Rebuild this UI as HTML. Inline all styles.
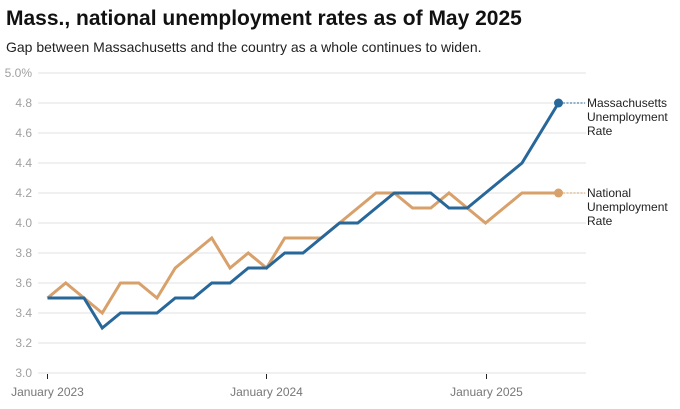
<!DOCTYPE html>
<html><head><meta charset="utf-8"><style>
html,body{margin:0;padding:0;background:#fff;}
body{width:680px;height:409px;overflow:hidden;font-family:"Liberation Sans",Arial,sans-serif;}
svg{display:block;}
</style></head><body>
<svg width="680" height="409" viewBox="0 0 680 409" xmlns="http://www.w3.org/2000/svg" font-family="Liberation Sans, Arial, sans-serif">
<text x="6" y="25" font-size="21" font-weight="bold" fill="#111">Mass., national unemployment rates as of May 2025</text>
<text x="6" y="52" font-size="14" fill="#222">Gap between Massachusetts and the country as a whole continues to widen.</text>
<g stroke="#e2e2e2" stroke-width="1">
<line x1="38" x2="586" y1="73" y2="73"/>
<line x1="38" x2="586" y1="103" y2="103"/>
<line x1="38" x2="586" y1="133" y2="133"/>
<line x1="38" x2="586" y1="163" y2="163"/>
<line x1="38" x2="586" y1="193" y2="193"/>
<line x1="38" x2="586" y1="223" y2="223"/>
<line x1="38" x2="586" y1="253" y2="253"/>
<line x1="38" x2="586" y1="283" y2="283"/>
<line x1="38" x2="586" y1="313" y2="313"/>
<line x1="38" x2="586" y1="343" y2="343"/>
<line x1="38" x2="586" y1="373" y2="373"/>
</g>
<g font-size="12" fill="#a0a0a0" text-anchor="end">
<text x="32" y="77">5.0%</text>
<text x="32" y="107">4.8</text>
<text x="32" y="137">4.6</text>
<text x="32" y="167">4.4</text>
<text x="32" y="197">4.2</text>
<text x="32" y="227">4.0</text>
<text x="32" y="257">3.8</text>
<text x="32" y="287">3.6</text>
<text x="32" y="317">3.4</text>
<text x="32" y="347">3.2</text>
<text x="32" y="377">3.0</text>
</g>
<g stroke="#222" stroke-width="1">
<line x1="47.5" x2="47.5" y1="374" y2="379"/>
<line x1="266.5" x2="266.5" y1="374" y2="379"/>
<line x1="486.5" x2="486.5" y1="374" y2="379"/>
</g>
<g font-size="12" fill="#777" text-anchor="middle">
<text x="47.5" y="396">January 2023</text>
<text x="266.5" y="396">January 2024</text>
<text x="486.5" y="396">January 2025</text>
</g>
<polyline fill="none" stroke="#d8a06a" stroke-width="3" stroke-linejoin="miter"
points="47.5,298 65.75,283 84,298 102.25,313 120.5,283 138.75,283 157,298 175.25,268 193.5,253 211.75,238 230,268 248.25,253 266.5,268 284.75,238 303,238 321.25,238 339.5,223 357.75,208 376,193 394.25,193 412.5,208 430.75,208 449,193 467.25,208 485.5,223 503.75,208 522,193 540.25,193 558.5,193"/>
<polyline fill="none" stroke="#27679a" stroke-width="3" stroke-linejoin="miter"
points="47.5,298 65.75,298 84,298 102.25,328 120.5,313 138.75,313 157,313 175.25,298 193.5,298 211.75,283 230,283 248.25,268 266.5,268 284.75,253 303,253 321.25,238 339.5,223 357.75,223 376,208 394.25,193 412.5,193 430.75,193 449,208 467.25,208 485.5,193 503.75,178 522,163 540.25,133 558.5,103"/>
<line x1="563" x2="585" y1="103" y2="103" stroke="#27679a" stroke-width="1" stroke-dasharray="2,1.5"/>
<line x1="563" x2="585" y1="193" y2="193" stroke="#d8a06a" stroke-width="1" stroke-dasharray="2,1.5"/>
<circle cx="558.5" cy="103" r="4.5" fill="#27679a"/>
<circle cx="558.5" cy="193" r="4.5" fill="#d8a06a"/>
<g font-size="12" fill="#222">
<text x="587" y="107">Massachusetts</text>
<text x="587" y="121">Unemployment</text>
<text x="587" y="135">Rate</text>
<text x="587" y="197">National</text>
<text x="587" y="211">Unemployment</text>
<text x="587" y="225">Rate</text>
</g>
</svg>
</body></html>
